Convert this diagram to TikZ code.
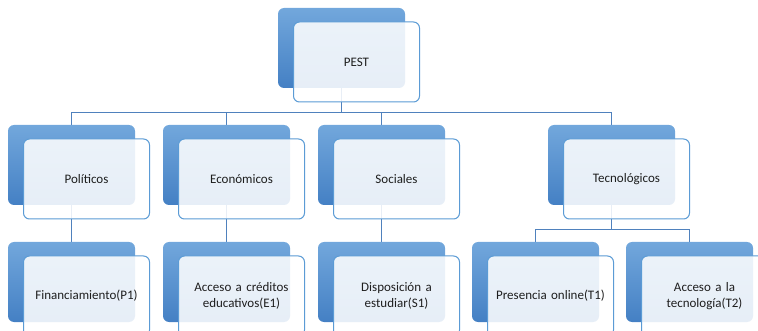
\documentclass[tikz,border=0pt]{standalone}
\usepackage{fontspec}
\setmainfont{Carlito}
\pgfdeclarelayer{bg}
\pgfsetlayers{bg,main}
\definecolor{conncol}{RGB}{79,129,189}
\definecolor{frontline}{RGB}{91,155,213}
\definecolor{frontfill}{RGB}{255,255,255}
\definecolor{backtop}{RGB}{114,167,220}
\definecolor{backbot}{RGB}{68,128,196}
\definecolor{txt}{RGB}{30,30,30}
\tikzset{
  backbox/.style={rectangle, rounded corners=6pt, minimum width=127pt, minimum height=80pt,
    inner sep=0pt, top color=backtop, bottom color=backbot, draw=none},
  frontbox/.style={rectangle, rounded corners=6pt, minimum width=126pt, minimum height=80pt,
    inner sep=0pt, draw=frontline, line width=1pt, fill=frontfill, fill opacity=0.87,
    text opacity=1, text=txt, text width=120pt, align=center,
    font=\fontsize{13}{15.5}\selectfont},
  conn/.style={draw=conncol, line width=1pt}
}
\newcommand\pestunit[4]{%
  \node[backbox] (#1b) at ({#2+63.5},{#3+40}) {};
  \node[frontbox] (#1) at ({#2+78.5},{#3+54}) {#4};
}
\begin{document}
\begin{tikzpicture}[x=1pt,y=-1pt]
  \clip (0,0) rectangle (758,331);
  \useasboundingbox (0,0) rectangle (758,331);
  \pestunit{pest}{278}{8}{PEST}
  \pestunit{pol}{8}{125}{Políticos}
  \pestunit{eco}{163}{125}{Económicos}
  \pestunit{soc}{318}{125}{Sociales}
  \pestunit{tec}{548}{125}{Tecnológicos}
  \pestunit{pa}{8}{242}{Financiamiento(P1)}
  \pestunit{ea}{163}{242}{Acceso a créditos\\educativos(E1)}
  \pestunit{sa}{318}{242}{Disposición a\\estudiar(S1)}
  \pestunit{ta}{472}{242}{Presencia online(T1)}
  \pestunit{tb}{626}{242}{Acceso a la\\tecnología(T2)}
  \coordinate (bus) at (342,112.5);
  \coordinate (tbus) at (612,230);
  \begin{pgfonlayer}{bg}
    \draw[conn] (pestb.south) -- (pestb.south |- bus);
    \draw[conn] (polb.north) -- (polb.north |- bus) -| (tecb.north);
    \draw[conn] (ecob.north) -- (ecob.north |- bus);
    \draw[conn] (socb.north) -- (socb.north |- bus);
    \draw[conn] (polb.south) -- (pab.north);
    \draw[conn] (ecob.south) -- (eab.north);
    \draw[conn] (socb.south) -- (sab.north);
    \draw[conn] (tecb.south) -- (tecb.south |- tbus);
    \draw[conn] (tab.north) -- (tab.north |- tbus) -| (tbb.north);
  \end{pgfonlayer}
\end{tikzpicture}
\end{document}
